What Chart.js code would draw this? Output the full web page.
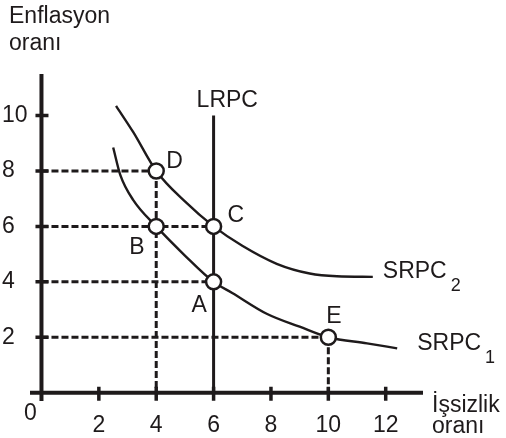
<!DOCTYPE html>
<html>
<head>
<meta charset="utf-8">
<script src="https://cdn.jsdelivr.net/npm/chart.js@4.4.0/dist/chart.umd.min.js"></script>
<style>
  html, body { margin: 0; padding: 0; background: #fff; }
</style>
</head>
<body>
<canvas id="myChart" width="506" height="438"></canvas>
<script>
// tick labels
const xTicks = [2, 4, 6, 8, 10, 12];
const yTicks = [2, 4, 6, 8, 10];

// short run phillips curves
const srpc2X = [2.6, 3.2, 4, 5, 6, 7.0, 8.2, 9.35, 10.3, 11.55];
const srpc2Y = [10.35, 9.4, 8, 6.9, 6, 5.3, 4.65, 4.3, 4.2, 4.18];
const srpc1X = [2.5, 2.75, 3.2, 4, 5, 6, 6.65, 7.85, 9, 10, 11.35, 12.4];
const srpc1Y = [8.85, 7.85, 6.95, 6, 4.95, 4, 3.6, 2.85, 2.38, 2, 1.78, 1.6];

// long run curve
const lrpcX = 6;
const lrpcY = [0, 10];

// marked points
const pointNames = ['D', 'C', 'B', 'A', 'E'];
const pointX = [4, 6, 4, 6, 10];
const pointY = [8, 6, 6, 4, 2];

// which points get dashed guides to the axes
const hGuides = ['D', 'C', 'A', 'E'];
const vGuides = ['D', 'E'];

const ink = '#1e1a1b';
const FONT = '"Liberation Sans", Arial, sans-serif';
const FS = 23;

const toXY = (xs, ys) => xs.map((x, i) => ({ x: x, y: ys[i] }));
const pt = name => pointNames.indexOf(name);

const guideData = [];
hGuides.forEach(n => {
  const i = pt(n);
  guideData.push({ x: 0, y: pointY[i] }, { x: pointX[i], y: pointY[i] }, { x: null, y: null });
});
vGuides.forEach(n => {
  const i = pt(n);
  guideData.push({ x: pointX[i], y: pointY[i] }, { x: pointX[i], y: 0 }, { x: null, y: null });
});

// axes lines + tick marks crossing them
const axesPlugin = {
  id: 'axesPlugin',
  beforeDatasetsDraw(chart) {
    const { ctx, chartArea, scales: { x, y } } = chart;
    const x0 = x.getPixelForValue(0);
    const y0 = y.getPixelForValue(0);
    ctx.save();
    ctx.strokeStyle = ink;
    ctx.lineWidth = 4;
    ctx.beginPath();
    ctx.moveTo(x0, chartArea.top);
    ctx.lineTo(x0, chartArea.bottom);
    ctx.moveTo(chartArea.left, y0);
    ctx.lineTo(chartArea.right, y0);
    ctx.stroke();
    ctx.lineWidth = 3.5;
    ctx.beginPath();
    xTicks.forEach(v => {
      const px = x.getPixelForValue(v);
      ctx.moveTo(px, y0 - 6);
      ctx.lineTo(px, y0 + 8);
    });
    yTicks.forEach(v => {
      const py = y.getPixelForValue(v);
      ctx.moveTo(x0 - 6, py);
      ctx.lineTo(x0 + 7, py);
    });
    ctx.stroke();
    ctx.restore();
  }
};

// text labels
const labelPlugin = {
  id: 'labelPlugin',
  afterDatasetsDraw(chart) {
    const { ctx, chartArea, scales: { x, y } } = chart;
    const x0 = x.getPixelForValue(0);
    const y0 = y.getPixelForValue(0);
    ctx.save();
    ctx.fillStyle = ink;
    ctx.textAlign = 'left';
    ctx.textBaseline = 'alphabetic';
    ctx.font = FS + 'px ' + FONT;

    const offsets = { D: [10, -3], C: [14, -4], B: [-27, 28], A: [-22, 30], E: [-2, -14] };
    pointNames.forEach((n, i) => {
      const px = x.getPixelForValue(pointX[i]);
      const py = y.getPixelForValue(pointY[i]);
      ctx.fillText(n, px + offsets[n][0], py + offsets[n][1]);
    });

    // LRPC
    ctx.fillText('LRPC', x.getPixelForValue(lrpcX) - 17, y.getPixelForValue(lrpcY[1]) - 9);

    // SRPC labels with subscripts
    const srpcLabel = (xs, ys, sub, dx, dy) => {
      const px = x.getPixelForValue(xs[xs.length - 1]) + dx;
      const py = y.getPixelForValue(ys[ys.length - 1]) + dy;
      ctx.font = FS + 'px ' + FONT;
      ctx.fillText('SRPC', px, py);
      const w = ctx.measureText('SRPC').width;
      ctx.font = '18px ' + FONT;
      ctx.fillText(sub, px + w + 4, py + 13);
    };
    srpcLabel(srpc2X, srpc2Y, '2', 10, 1);
    srpcLabel(srpc1X, srpc1Y, '1', 20, 2);

    ctx.font = FS + 'px ' + FONT;
    // origin
    ctx.textAlign = 'center';
    ctx.fillText('0', x0 - 11, y0 + 27);
    ctx.textAlign = 'left';
    // axis titles
    ctx.fillText('Enflasyon', 9, 23);
    ctx.fillText('oranı', 9, 50);
    ctx.fillText('İşsizlik', chartArea.right + 9, y0 + 19);
    ctx.fillText('oranı', chartArea.right + 9, y0 + 40);
    ctx.restore();
  }
};

new Chart(document.getElementById('myChart').getContext('2d'), {
  type: 'scatter',
  data: {
    datasets: [
      {
        label: 'Noktalar',
        data: toXY(pointX, pointY),
        showLine: false,
        pointRadius: 7.5,
        pointBorderWidth: 2.5,
        pointBackgroundColor: '#fff',
        pointBorderColor: ink,
        order: 0
      },
      {
        label: 'SRPC2',
        data: toXY(srpc2X, srpc2Y),
        showLine: true,
        borderColor: ink,
        borderWidth: 2.4,
        pointRadius: 0,
        cubicInterpolationMode: 'monotone',
        order: 1
      },
      {
        label: 'SRPC1',
        data: toXY(srpc1X, srpc1Y),
        showLine: true,
        borderColor: ink,
        borderWidth: 2.4,
        pointRadius: 0,
        cubicInterpolationMode: 'monotone',
        order: 1
      },
      {
        label: 'LRPC',
        data: lrpcY.map(v => ({ x: lrpcX, y: v })),
        showLine: true,
        borderColor: ink,
        borderWidth: 3,
        pointRadius: 0,
        order: 1
      },
      {
        label: 'guides',
        data: guideData,
        showLine: true,
        spanGaps: false,
        borderColor: ink,
        borderWidth: 3,
        borderDash: [7, 3],
        pointRadius: 0,
        order: 2
      }
    ]
  },
  options: {
    responsive: false,
    animation: false,
    layout: { padding: { left: 2, top: 74, right: 83, bottom: 0 } },
    plugins: {
      legend: { display: false },
      tooltip: { enabled: false }
    },
    scales: {
      x: {
        type: 'linear',
        min: -0.4,
        max: 13.3,
        position: 'bottom',
        grid: { display: false, drawTicks: false },
        border: { display: false },
        ticks: { autoSkip: false, padding: 11, color: ink, font: { family: FONT, size: FS } },
        afterBuildTicks: s => { s.ticks = xTicks.map(v => ({ value: v })); },
        afterFit: s => { s.height = 37; }
      },
      y: {
        type: 'linear',
        min: -0.3,
        max: 11.5,
        position: 'left',
        grid: { display: false, drawTicks: false },
        border: { display: false },
        ticks: { autoSkip: false, crossAlign: 'far', padding: 0, color: ink, font: { family: FONT, size: FS } },
        afterBuildTicks: s => { s.ticks = yTicks.map(v => ({ value: v })); },
        afterFit: s => { s.width = 28; }
      }
    }
  },
  plugins: [axesPlugin, labelPlugin]
});
</script>
</body>
</html>
